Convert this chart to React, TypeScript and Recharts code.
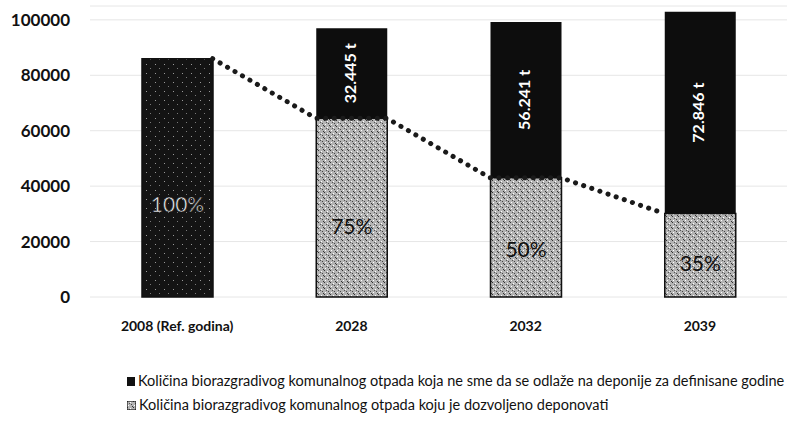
import { ComposedChart, Bar, Line, XAxis, YAxis, CartesianGrid, Legend, LabelList, Cell } from 'recharts'

const years = ['2008 (Ref. godina)', '2028', '2032', '2039']
const allowed = [86000, 64500, 43000, 30100]        // dozvoljeno deponovati
const banned = [0, 32445, 56241, 72846]             // ne sme na deponije
const shares = ['100%', '75%', '50%', '35%']
const yTicks = [0, 20000, 40000, 60000, 80000, 100000]

const SERIES_BANNED = 'Količina biorazgradivog komunalnog otpada koja ne sme da se odlaže na deponije za definisane godine'
const SERIES_ALLOWED = 'Količina biorazgradivog komunalnog otpada koju je dozvoljeno deponovati'

const W = 788
const H = 428
const MARGIN = { top: 6, right: 1, bottom: 53, left: 0 }
const Y_WIDTH = 90
const BAR_SIZE = 71
const FONT = 'Lato, "Noto Sans", sans-serif'

const data = years.map((year, i) => ({ year, allowed: allowed[i], banned: banned[i], share: shares[i] }))

// dotted line runs from the right edge of one bar to the left edge of the next
const step = (W - Y_WIDTH - MARGIN.right) / years.length
const half = BAR_SIZE / 2 / step
const linePoints: { x: number; v: number }[] = []
allowed.forEach((v, i) => {
  if (i > 0) linePoints.push({ x: i - half, v })
  if (i < allowed.length - 1) linePoints.push({ x: i + half, v })
})

const fmt = (n: number) => n.toLocaleString('de-DE') + ' t'

const ShareLabel = (props: any) => {
  const { x, y, width, height, value } = props
  const i = allowed.indexOf(Number(value))
  const dark = i === 0
  return (
    <text
      x={x + width / 2}
      y={y + height * 0.62}
      textAnchor="middle"
      dominantBaseline="middle"
      fontFamily={FONT}
      fontSize={21}
      fill={dark ? '#f2f2f2' : '#111'}
      stroke={dark ? '#111' : 'none'}
      strokeWidth={dark ? 0.6 : 0}
    >
      {shares[i]}
    </text>
  )
}

const TonLabel = (props: any) => {
  const { x, y, width, height, value } = props
  if (!value) return null
  const cx = x + width / 2
  const cy = y + height / 2
  return (
    <text
      x={cx}
      y={cy}
      transform={`rotate(-90 ${cx} ${cy})`}
      textAnchor="middle"
      dominantBaseline="middle"
      fontFamily={FONT}
      fontWeight="bold"
      fontSize={16}
      fill="#fff"
    >
      {fmt(Number(value))}
    </text>
  )
}

const renderLegend = () => (
  <div style={{ fontFamily: FONT, fontSize: 14.5, color: '#111', lineHeight: '24px' }}>
    <div style={{ display: 'flex', alignItems: 'center', gap: 3 }}>
      <span style={{ width: 8, height: 9, background: '#111', display: 'inline-block' }} />
      {SERIES_BANNED}
    </div>
    <div style={{ display: 'flex', alignItems: 'center', gap: 3 }}>
      <svg width={9} height={9}>
        <rect x={0} y={0} width={9} height={9} fill="url(#speckle)" stroke="#222" strokeWidth={1.2} />
      </svg>
      {SERIES_ALLOWED}
    </div>
  </div>
)

export default function App() {
  return (
    <div style={{ position: 'absolute', left: 0, top: 0, width: W, height: H, background: '#fff' }}>
      <ComposedChart width={W} height={H} data={data} margin={MARGIN}>
        <defs>
          <pattern id="speckle" width={6} height={6} patternUnits="userSpaceOnUse">
            <rect width={6} height={6} fill="#b4b4b4" />
            <rect x={0} y={0} width={1} height={1} fill="#333" />
            <rect x={3} y={1} width={1} height={1} fill="#fff" />
            <rect x={4} y={3} width={1} height={1} fill="#444" />
            <rect x={1} y={4} width={1} height={1} fill="#fff" />
            <rect x={2} y={2} width={1} height={1} fill="#555" />
            <rect x={5} y={5} width={1} height={1} fill="#333" />
          </pattern>
          <pattern id="darkSpeckle" width={9} height={9} patternUnits="userSpaceOnUse">
            <rect width={9} height={9} fill="#141414" />
            <rect x={2} y={1} width={1} height={1} fill="#9a9a9a" />
            <rect x={6} y={5} width={1} height={1} fill="#7a7a7a" />
          </pattern>
        </defs>
        <CartesianGrid vertical={false} stroke="#e6e6e6" />
        <XAxis
          dataKey="year"
          height={30}
          axisLine={false}
          tickLine={false}
          tickSize={0}
          tickMargin={24}
          interval={0}
          tick={{ fontSize: 14, fill: '#111', fontFamily: FONT, fontWeight: 'bold' }}
        />
        <XAxis xAxisId="line" type="number" dataKey="x" domain={[-0.5, 3.5]} allowDataOverflow hide />
        <YAxis
          width={Y_WIDTH}
          domain={[0, 105000]}
          ticks={yTicks}
          axisLine={false}
          tickLine={false}
          tickSize={0}
          tickMargin={20}
          tick={{ fontSize: 17, fill: '#111', fontFamily: FONT, fontWeight: 'bold' }}
        />
        <Line
          xAxisId="line"
          data={linePoints}
          dataKey="v"
          stroke="#1a1a1a"
          strokeWidth={5}
          strokeDasharray="0.1 8.5"
          strokeLinecap="round"
          dot={false}
          activeDot={false}
          isAnimationActive={false}
        />
        <Bar dataKey="allowed" name={SERIES_ALLOWED} stackId="a" barSize={BAR_SIZE} stroke="#111" strokeWidth={1.5} isAnimationActive={false}>
          {data.map((d, i) => (
            <Cell key={d.year} fill={i === 0 ? 'url(#darkSpeckle)' : 'url(#speckle)'} />
          ))}
          <LabelList dataKey="allowed" content={ShareLabel} />
        </Bar>
        <Bar dataKey="banned" name={SERIES_BANNED} stackId="a" barSize={BAR_SIZE} fill="#0d0d0d" isAnimationActive={false}>
          <LabelList dataKey="banned" content={TonLabel} />
        </Bar>
        <Legend content={renderLegend} wrapperStyle={{ left: 127, top: 369, width: 660 }} />
      </ComposedChart>
    </div>
  )
}
